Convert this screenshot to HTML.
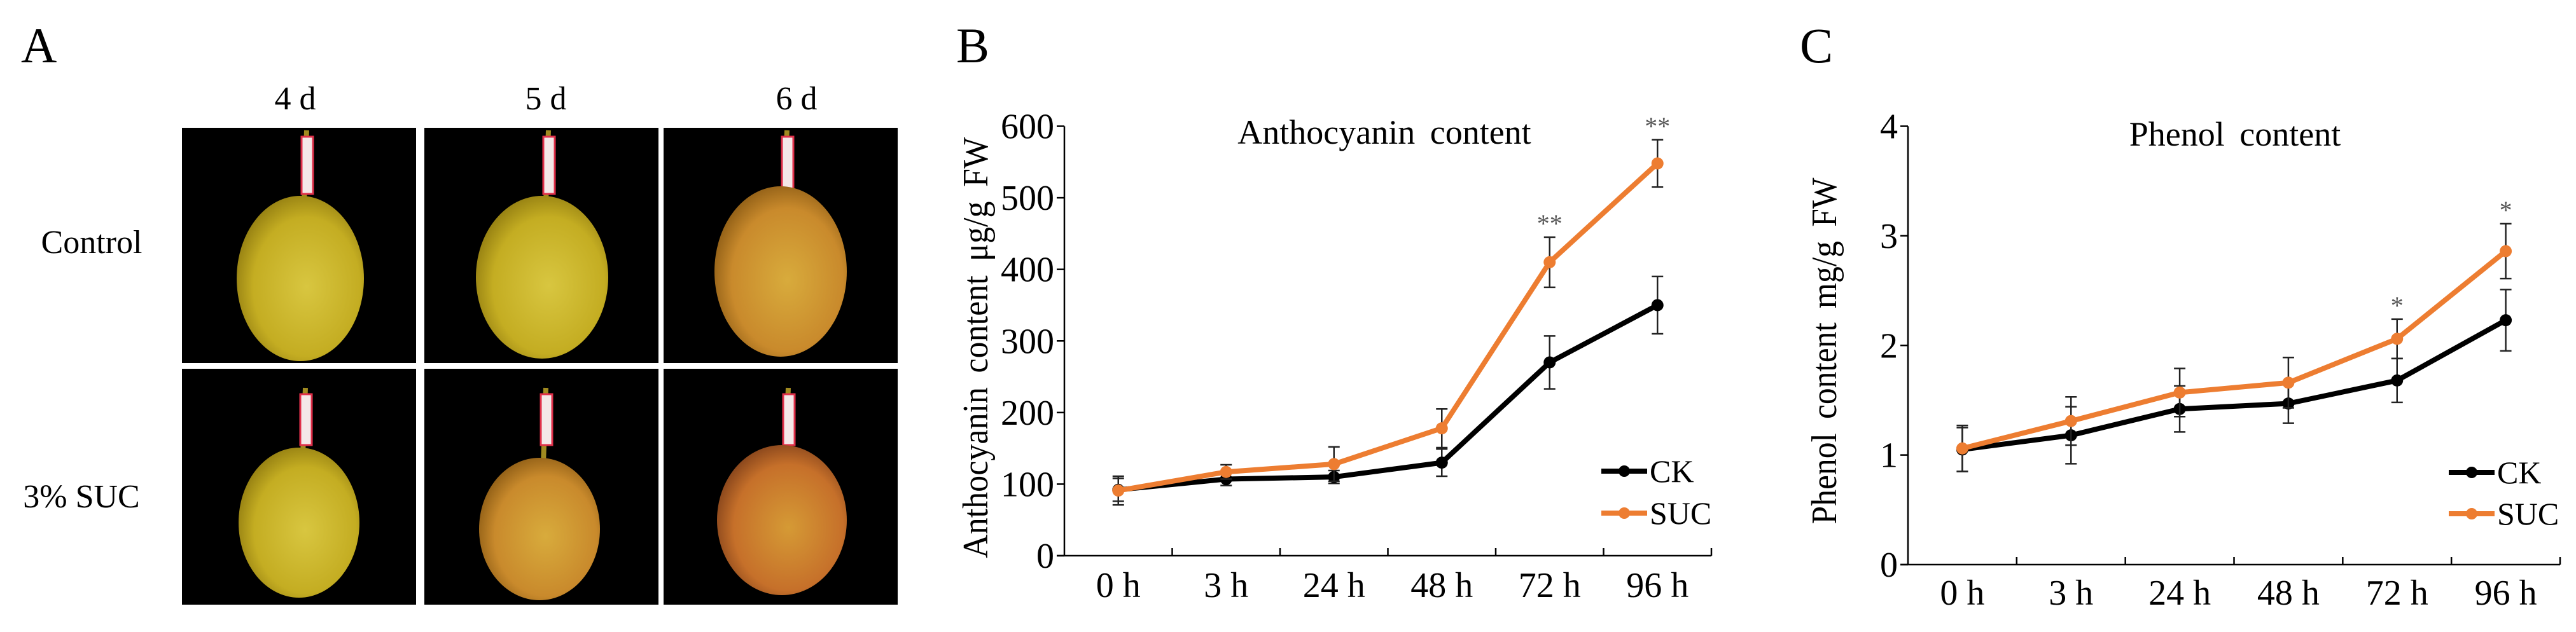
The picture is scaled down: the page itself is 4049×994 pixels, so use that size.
<!DOCTYPE html>
<html><head><meta charset="utf-8"><style>
html,body{margin:0;padding:0;background:#fff}
svg{display:block}
text{font-family:"Liberation Serif",serif}
</style></head><body>
<svg id="fig" width="4049" height="994" viewBox="0 0 4049 994" xmlns="http://www.w3.org/2000/svg">
<defs>
<radialGradient id="pearY" cx="0.55" cy="0.55" r="0.6"><stop offset="0" stop-color="#d8c640"/><stop offset="0.7" stop-color="#c4ad22"/><stop offset="1" stop-color="#8f7a10"/></radialGradient>
<radialGradient id="pearO" cx="0.55" cy="0.55" r="0.6"><stop offset="0" stop-color="#d8ab3c"/><stop offset="0.7" stop-color="#c98a2c"/><stop offset="1" stop-color="#8a5a14"/></radialGradient>
<radialGradient id="pearR" cx="0.55" cy="0.55" r="0.6"><stop offset="0" stop-color="#d59a35"/><stop offset="0.7" stop-color="#c6702a"/><stop offset="1" stop-color="#80401a"/></radialGradient>
</defs>
<g id="panelA">
<text x="33" y="98" font-size="78">A</text>
<text x="464" y="172" font-size="52" text-anchor="middle">4 d</text>
<text x="858" y="172" font-size="52" text-anchor="middle">5 d</text>
<text x="1252" y="172" font-size="52" text-anchor="middle">6 d</text>
<text x="144" y="398" font-size="52" text-anchor="middle">Control</text>
<text x="128" y="798" font-size="52" text-anchor="middle">3% SUC</text>
<g id="photos"></g>
</g>
<g id="panelB"></g>
<g id="panelC"></g>
</svg>
<script>
const NS="http://www.w3.org/2000/svg";
function mk(parent,tag,attrs,txt){const e=document.createElementNS(NS,tag);for(const k in attrs)e.setAttribute(k,attrs[k]);if(txt!==undefined)e.textContent=txt;parent.appendChild(e);return e;}

// ---- Chart data ----
const categories=["0 h","3 h","24 h","48 h","72 h","96 h"];
const anthoCK=[92,107,110,130,270,350];
const anthoCKErr=[16,9,9,19,37,40];
const anthoSUC=[91,117,128,178,410,548];
const anthoSUCErr=[20,10,24,27,35,33];
const anthoTicks=[0,100,200,300,400,500,600];
const anthoStars=["","","","","**","**"];
const phenolCK=[1.05,1.18,1.42,1.47,1.68,2.23];
const phenolCKErr=[0.2,0.26,0.21,0.18,0.2,0.28];
const phenolSUC=[1.06,1.31,1.57,1.66,2.06,2.86];
const phenolSUCErr=[0.21,0.22,0.22,0.23,0.18,0.25];
const phenolTicks=[0,1,2,3,4];
const phenolStars=["","","","","*","*"];

// ---- Photos ----
const photos=document.getElementById('photos');
const cols=[[286,654],[667,1035],[1043,1411]];
const rows=[[201,571],[580,951]];
const pears=[
 [[472,438,100,130,'pearY'],[852,436,104,128,'pearY'],[1227,427,104,134,'pearO']],
 [[470,822,95,118,'pearY'],[848,832,95,112,'pearO'],[1229,818,102,118,'pearR']]];
rows.forEach((r,ri)=>cols.forEach((c,ci)=>{
  const bg=mk(photos,'rect',{x:c[0],y:r[0],width:c[1]-c[0],height:r[1]-r[0],fill:'#000'});
  
  
  const p=pears[ri][ci];
  const stemTop=ri===0?r[0]+4:r[0]+30;
  mk(photos,'line',{x1:p[0]+10,y1:stemTop,x2:p[0]+6,y2:p[1]-p[3]+10,stroke:'#a08a20','stroke-width':8});
  mk(photos,'rect',{x:p[0]+2,y:stemTop+10,width:18,height:ri===0?90:80,fill:'#f4e8e8',stroke:'#e0304a','stroke-width':3});
  const pe=mk(photos,'ellipse',{cx:p[0],cy:p[1],rx:p[2],ry:p[3],fill:'url(#'+p[4]+')'});
  
  
}));

// ---- Chart drawing ----
function drawChart(g,cfg){
  const {x0,x1,yTop,yBot,vmax,ticks,ck,ckErr,suc,sucErr,stars,starOff,label,labelX,title,titleX,titleY,ytitle,ytX,ytY,ytLen,xlabY,legX,legY1,legY2}=cfg;
  const n=categories.length,step=(x1-x0)/n;
  const xs=i=>x0+step*(i+0.5);
  const ys=v=>yBot-(v/vmax)*(yBot-yTop);
  let t=mk(g,'text',{x:labelX,y:98,'font-size':78},label);
  
  t=mk(g,'text',{x:titleX,y:titleY,'font-size':54,'text-anchor':'middle','word-spacing':'10'},title);
  
  t=mk(g,'text',{x:0,y:0,'font-size':56,'text-anchor':'middle','word-spacing':'10',transform:`translate(${ytX},${ytY}) rotate(-90)`,textLength:ytLen,lengthAdjust:'spacingAndGlyphs'},ytitle);
  
  let a=mk(g,'line',{x1:x0,y1:yTop,x2:x0,y2:yBot,stroke:'#000','stroke-width':2.5});
  
  a=mk(g,'line',{x1:x0-12,y1:yBot,x2:x1,y2:yBot,stroke:'#000','stroke-width':2.5});
  
  ticks.forEach(v=>{
    mk(g,'line',{x1:x0-12,y1:ys(v),x2:x0,y2:ys(v),stroke:'#000','stroke-width':2.5});
    const tl=mk(g,'text',{x:x0-16,y:ys(v)+19,'font-size':56,'text-anchor':'end'},String(v));
    
  });
  for(let i=1;i<=n;i++) mk(g,'line',{x1:x0+step*i,y1:yBot,x2:x0+step*i,y2:yBot-12,stroke:'#000','stroke-width':2.5});
  categories.forEach((c,i)=>{
    const tl=mk(g,'text',{x:xs(i),y:xlabY,'font-size':56,'text-anchor':'middle'},c);
    
  });
  function series(vals,errs,color,name){
    const sg=mk(g,'g',{});
    
    vals.forEach((v,i)=>{
      const x=xs(i),lo=ys(v-errs[i]),hi=ys(v+errs[i]);
      mk(sg,'line',{x1:x,y1:hi,x2:x,y2:lo,stroke:'#222','stroke-width':2.5});
      mk(sg,'line',{x1:x-9,y1:hi,x2:x+9,y2:hi,stroke:'#222','stroke-width':2.5});
      mk(sg,'line',{x1:x-9,y1:lo,x2:x+9,y2:lo,stroke:'#222','stroke-width':2.5});
    });
    const ln=mk(sg,'polyline',{points:vals.map((v,i)=>xs(i)+','+ys(v)).join(' '),fill:'none',stroke:color,'stroke-width':8,'stroke-linejoin':'round'});
    
    vals.forEach((v,i)=>{
      const c=mk(sg,'circle',{cx:xs(i),cy:ys(v),r:9.5,fill:color});
      
    });
  }
  series(ck,ckErr,'#000','ck');
  series(suc,sucErr,'#ED7D31','suc');
  stars.forEach((s,i)=>{
    if(!s)return;
    const st=mk(g,'text',{x:xs(i),y:ys(suc[i]+sucErr[i])-starOff,'font-size':40,'text-anchor':'middle',fill:'#555'},s);
    
  });
  [[legY1,'#000','CK'],[legY2,'#ED7D31','SUC']].forEach(([y,col,txt])=>{
    const lg=mk(g,'g',{});
    
    mk(lg,'line',{x1:legX,y1:y,x2:legX+72,y2:y,stroke:col,'stroke-width':8});
    mk(lg,'circle',{cx:legX+36,cy:y,r:9,fill:col});
    mk(lg,'text',{x:legX+76,y:y+17,'font-size':50},txt);
  });
}
drawChart(document.getElementById('panelB'),{x0:1673,x1:2690,yTop:198.5,yBot:874,vmax:600,ticks:anthoTicks,
 ck:anthoCK,ckErr:anthoCKErr,suc:anthoSUC,sucErr:anthoSUCErr,stars:anthoStars,starOff:8,
 label:'B',labelX:1503,title:'Anthocyanin content',titleX:2176,titleY:226,
 ytitle:'Anthocyanin content μg/g FW',ytX:1552,ytY:547,ytLen:662,xlabY:939,legX:2517,legY1:741,legY2:807});
drawChart(document.getElementById('panelC'),{x0:2999,x1:4024,yTop:198.5,yBot:888,vmax:4,ticks:phenolTicks,
 ck:phenolCK,ckErr:phenolCKErr,suc:phenolSUC,sucErr:phenolSUCErr,stars:phenolStars,starOff:8,
 label:'C',labelX:2829,title:'Phenol content',titleX:3513,titleY:229,
 ytitle:'Phenol content mg/g FW',ytX:2886,ytY:552,ytLen:545,xlabY:951,legX:3849,legY1:743,legY2:808});
</script>
</body></html>
